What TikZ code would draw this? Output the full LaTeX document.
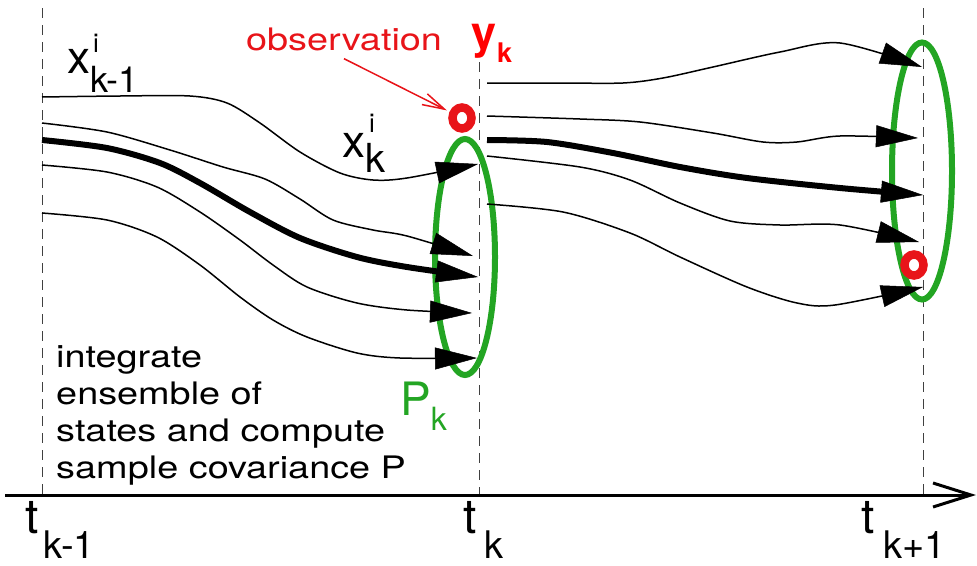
\documentclass[tikz,border=0pt]{standalone}
\usepackage{fontspec}
\setmainfont{TeX Gyre Heros}
\definecolor{ObsRed}{RGB}{232,20,25}
\definecolor{EnsGreen}{RGB}{35,165,35}
\usetikzlibrary{
    arrows.meta,
    shapes.geometric,
    positioning,
}

\begin{document}
\begin{tikzpicture}[x=1pt, y=-1pt,
    traj/.style={line width=1.5pt, -{Triangle[length=42pt, width=22pt, line width=0.5pt]}},
    trajthick/.style={traj, line width=6pt},
    timeline/.style={dash pattern=on 10pt off 7pt, line width=1pt, black!75},
    covell/.style={ellipse, draw=EnsGreen, line width=6pt, inner sep=0pt},
    obsmark/.style={ellipse, draw=ObsRed, line width=8.5pt, minimum width=19pt, minimum height=21pt, inner sep=0pt},
    notetext/.style={font=\fontsize{31}{37}\selectfont, xscale=1.22, inner sep=0pt},
    sublabel/.style={anchor=base west, inner sep=0pt},
]
    \useasboundingbox (0,0) rectangle (977,565);

    % time lines and axis
    \draw[timeline] (42,8) -- (42,495);
    \draw[timeline] (479,62) -- (479,495);
    \draw[timeline] (923,8) -- (923,495);
    \draw[line width=3pt, -{Straight Barb[length=38pt, width=24pt, line width=3pt]}] (5,495) -- (976,495);

    % covariance ellipses
    \node[covell, minimum width=60pt, minimum height=236pt] (Pkell) at (465,257) {};
    \node[covell, minimum width=60pt, minimum height=257pt] (Pnextell) at (922,171) {};

    % ensemble from t_{k-1} to t_k
    \draw[traj] plot[smooth] coordinates {(42,97) (120,96) (190,96) (227,103) (260,123) (300,152) (340,173) (373,180) (407,178) (478,164)};
    \draw[traj] plot[smooth] coordinates {(42,123) (107,132) (170,150) (223,167) (265,179) (300,199) (333,220) (373,230) (407,236) (473,256)};
    \draw[trajthick] plot[smooth] coordinates {(42,140) (107,148) (160,163) (200,183) (250,212) (300,238) (357,257) (407,267) (478,277)};
    \draw[traj] plot[smooth] coordinates {(42,165) (107,172) (157,187) (200,212) (240,240) (273,265) (307,287) (357,303) (407,310) (472,313)};
    \draw[traj] plot[smooth] coordinates {(42,213) (107,220) (157,237) (200,265) (240,297) (273,320) (307,337) (357,353) (400,358) (477,358)};

    % ensemble from t_k to t_{k+1}
    \draw[traj] plot[smooth] coordinates {(487,83) (560,83) (623,83) (663,78) (713,67) (780,52) (840,43) (922,67)};
    \draw[traj] plot[smooth] coordinates {(487,116) (580,119) (640,122) (713,133) (763,142) (797,142) (840,136) (918,138)};
    \draw[trajthick] plot[smooth] coordinates {(487,140) (547,142) (613,153) (680,167) (747,178) (840,188) (923,195)};
    \draw[traj] plot[smooth] coordinates {(487,156) (580,167) (630,180) (680,203) (730,221) (780,225) (840,225) (919,242)};
    \draw[traj] plot[smooth] coordinates {(487,204) (563,212) (630,233) (680,257) (747,287) (797,303) (835,305) (923,287)};

    % observations
    \node[obsmark] (oleft) at (462,118) {};
    \node[obsmark] (oright) at (914,265) {};
    \node[notetext, text=ObsRed, anchor=base] (obs) at (344,50) {observation};
    \draw[ObsRed, line width=1.5pt, -{Straight Barb[length=22pt, width=12pt]}, shorten >=3pt] ([yshift=-8pt]obs.south) -- (oleft);
    \node[sublabel, text=red, font=\fontsize{45}{45}\selectfont\bfseries] (yk) at (471,48) {y\kern1pt\raisebox{-14pt}{\fontsize{27}{27}\selectfont k}};

    % labels
    \node[sublabel, font=\fontsize{46}{46}\selectfont] (xkm) at (67,73) {x\rlap{\kern3pt\raisebox{21pt}{\fontsize{26}{26}\selectfont i}}\raisebox{-19pt}{\fontsize{36}{36}\selectfont k-1}};
    \node[sublabel, font=\fontsize{46}{46}\selectfont] (xk) at (342,157) {x\rlap{\kern4pt\raisebox{25pt}{\fontsize{26}{26}\selectfont i}}\raisebox{-15pt}{\fontsize{40}{40}\selectfont k}};
    \node[sublabel, text=EnsGreen, font=\fontsize{46}{46}\selectfont] (pk) at (400,415) {P\raisebox{-15pt}{\fontsize{32}{32}\selectfont k}};
    \node[notetext, anchor=north west, align=left] (note) at (56,345) {integrate\\ensemble of\\states and compute\\sample covariance P};

    % time stamps
    \node[sublabel, font=\fontsize{48}{48}\selectfont] (tkm) at (25,533) {t\kern5pt\raisebox{-25pt}{\fontsize{38}{38}\selectfont k-1}};
    \node[sublabel, font=\fontsize{48}{48}\selectfont] (tk) at (463,533) {t\kern8pt\raisebox{-25pt}{\fontsize{38}{38}\selectfont k}};
    \node[sublabel, font=\fontsize{48}{48}\selectfont] (tkp) at (861,533) {t\kern9pt\raisebox{-25pt}{\fontsize{38}{38}\selectfont k+1}};
\end{tikzpicture}
\end{document}
